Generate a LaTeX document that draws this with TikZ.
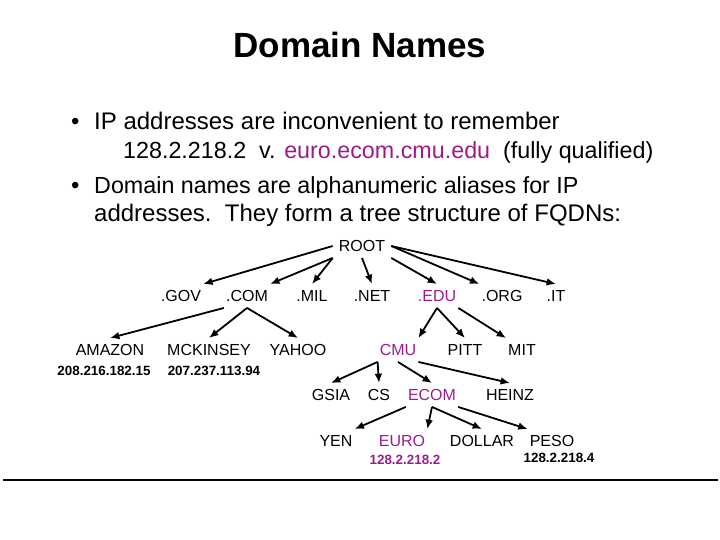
\documentclass[tikz,border=0pt]{standalone}
\usepackage{fontspec}
\setmainfont{Liberation Sans}
\usetikzlibrary{arrows.meta, positioning}
\definecolor{domainpurple}{HTML}{9B1B8E}

\begin{document}
\begin{tikzpicture}[
    x=1pt, y=-1pt,
    heading/.style={
        anchor=base,
        inner sep=0pt,
        font=\fontsize{35}{40}\selectfont\bfseries
    },
    bodytext/.style={
        anchor=base west,
        inner sep=0pt,
        font=\fontsize{24}{28}\selectfont
    },
    narrowtext/.style={
        bodytext,
        font=\fontsize{23.3}{28}\selectfont
    },
    dnsname/.style={
        inner xsep=2pt,
        inner ysep=6pt,
        text height=11.5pt,
        text depth=0pt,
        font=\fontsize{16}{19}\selectfont
    },
    address/.style={
        inner sep=0pt,
        font=\fontsize{13.4}{15}\selectfont\bfseries
    },
    highlighted/.style={
        text=domainpurple
    },
    treelink/.style={
        -{Latex[length=3.3mm, width=2.7mm]},
        line width=1.8pt
    }
]
    \useasboundingbox (0,0) rectangle (720,540);

    \node[heading] (title) at (360,58) {Domain Names};

    \node[bodytext] (bulletone) at (71,130) {\textbullet};
    \node[bodytext] (lineone) at (94,130) {IP addresses are inconvenient to remember};
    \node[narrowtext] (linetwo) at (123,159) {128.2.218.2\ \ v. \textcolor{domainpurple}{euro.ecom.cmu.edu}\ \ (fully qualified)};
    \node[bodytext] (bullettwo) at (71,194) {\textbullet};
    \node[narrowtext] (linethree) at (94,194) {Domain names are alphanumeric aliases for IP};
    \node[bodytext] (linefour) at (94,222) {addresses.\ \ They form a tree structure of FQDNs:};

    \node[dnsname, inner xsep=6pt] (root) at (362,246) {ROOT};

    \node[dnsname] (gov) at (181,296) {.GOV};
    \node[dnsname] (com) at (247,296) {.COM};
    \node[dnsname] (mil) at (312,296) {.MIL};
    \node[dnsname] (net) at (372,296) {.NET};
    \node[dnsname, highlighted] (edu) at (437,296) {.EDU};
    \node[dnsname] (org) at (502,296) {.ORG};
    \node[dnsname] (it) at (556,296) {.IT};

    \node[dnsname] (amazon) at (110,350) {AMAZON};
    \node[dnsname] (mckinsey) at (209,350) {MCKINSEY};
    \node[dnsname] (yahoo) at (298,350) {YAHOO};
    \node[dnsname, highlighted] (cmu) at (398,350) {CMU};
    \node[dnsname] (pitt) at (465,350) {PITT};
    \node[dnsname] (mit) at (522,350) {MIT};

    \node[address] (amazonip) at (104,371) {208.216.182.15};
    \node[address] (mckinseyip) at (214,371) {207.237.113.94};

    \node[dnsname] (gsia) at (331,395) {GSIA};
    \node[dnsname] (cs) at (379,395) {CS};
    \node[dnsname, highlighted] (ecom) at (432,395) {ECOM};
    \node[dnsname] (heinz) at (510,395) {HEINZ};

    \node[dnsname] (yen) at (336,441) {YEN};
    \node[dnsname, highlighted] (euro) at (402,441) {EURO};
    \node[dnsname] (dollar) at (482,441) {DOLLAR};
    \node[dnsname] (peso) at (552,441) {PESO};

    \node[address, highlighted] (euroip) at (405,460) {128.2.218.2};
    \node[address] (pesoip) at (559,458) {128.2.218.4};

    \draw[treelink] (root.west) -- (gov.north east);
    \draw[treelink] (root.south west) -- (com.north east);
    \draw[treelink] (root.south west) -- (mil.north);
    \draw[treelink] (root.south) -- (net.north);
    \draw[treelink] (root.south east) -- (edu.north);
    \draw[treelink] (root.east) -- (org.north west);
    \draw[treelink] (root.east) -- (it.north);

    \draw[treelink] (com.south west) -- (amazon.north);
    \draw[treelink] (com.south) -- (mckinsey.north);
    \draw[treelink] (com.south) -- (yahoo.north);

    \draw[treelink] (edu.south) -- (cmu.north east);
    \draw[treelink] (edu.south) -- (pitt.north);
    \draw[treelink] (edu.south east) -- (mit.north west);

    \draw[treelink] (cmu.south west) -- (gsia.north);
    \draw[treelink] (cmu.south west) -- (cs.north);
    \draw[treelink] (cmu.south) -- (ecom.north);
    \draw[treelink] (cmu.south east) -- (heinz.north);

    \draw[treelink] (ecom.south west) -- (yen.north east);
    \draw[treelink] (ecom.south) -- (euro.north east);
    \draw[treelink] (ecom.south) -- (dollar.north);
    \draw[treelink] (ecom.south east) -- (peso.north west);

    \draw[line width=2pt] (3,480) -- (718,480);
\end{tikzpicture}
\end{document}
